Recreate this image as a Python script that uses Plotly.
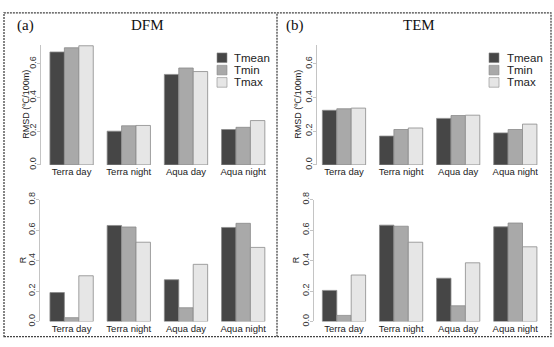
import plotly.graph_objects as go

W, H = 554, 347

categories = ["Terra day", "Terra night", "Aqua day", "Aqua night"]
series_names = ["Tmean", "Tmin", "Tmax"]

dfm_rmsd_tmean = [0.670, 0.200, 0.537, 0.210]
dfm_rmsd_tmin = [0.695, 0.232, 0.575, 0.223]
dfm_rmsd_tmax = [0.707, 0.234, 0.554, 0.263]
dfm_r_tmean = [0.190, 0.630, 0.274, 0.617]
dfm_r_tmin = [0.025, 0.620, 0.090, 0.644]
dfm_r_tmax = [0.300, 0.520, 0.375, 0.486]

tem_rmsd_tmean = [0.324, 0.171, 0.276, 0.190]
tem_rmsd_tmin = [0.333, 0.210, 0.293, 0.210]
tem_rmsd_tmax = [0.337, 0.219, 0.295, 0.242]
tem_r_tmean = [0.204, 0.632, 0.284, 0.621]
tem_r_tmin = [0.040, 0.625, 0.103, 0.646]
tem_r_tmax = [0.305, 0.520, 0.385, 0.490]

rmsd_ticks = [0.0, 0.2, 0.4, 0.6]
r_ticks = [0.0, 0.2, 0.4, 0.6, 0.8]

colors = ["#464646", "#a9a9a9", "#e6e6e6"]
edge = "#8a8a8a"


def fx(px):
    return px / W


def fy(py):
    return 1 - py / H


fig = go.Figure()

panels = [
    ("x", "y", [dfm_rmsd_tmean, dfm_rmsd_tmin, dfm_rmsd_tmax]),
    ("x2", "y2", [tem_rmsd_tmean, tem_rmsd_tmin, tem_rmsd_tmax]),
    ("x3", "y3", [dfm_r_tmean, dfm_r_tmin, dfm_r_tmax]),
    ("x4", "y4", [tem_r_tmean, tem_r_tmin, tem_r_tmax]),
]
for xa, ya, vals in panels:
    for name, v, c in zip(series_names, vals, colors):
        fig.add_trace(go.Bar(x=categories, y=v, name=name, xaxis=xa, yaxis=ya,
                             marker=dict(color=c, line=dict(color=edge, width=0.8)),
                             showlegend=False))

tickfont = dict(family="Liberation Sans, Arial", size=9, color="#333")
catfont = dict(family="Liberation Sans, Arial", size=9.5, color="#222")


def yax(dom_px, rng, ticks):
    return dict(domain=[fy(dom_px[1]), fy(dom_px[0])], range=rng, tickvals=ticks,
                ticktext=[f"{t:.1f}" for t in ticks], tickangle=-90, tickfont=tickfont,
                showline=True, linecolor="#c4c4c4", linewidth=1, ticks="outside",
                ticklen=3, tickcolor="#c4c4c4", showgrid=False, zeroline=False,
                ticklabelstandoff=-3, fixedrange=True)


def xax(dom_px, axis_px, center0_px, period, anchor):
    left = -(center0_px - axis_px) / period
    right = (dom_px[1] - center0_px) / period
    return dict(domain=[fx(axis_px), fx(dom_px[1])], range=[left, right],
                showline=False, ticks="", tickfont=catfont, showgrid=False,
                zeroline=False, anchor=anchor, fixedrange=True)


top = (38, 163)
bot = (199, 325.7)
fig.update_layout(
    width=W, height=H, margin=dict(l=0, r=0, t=0, b=0),
    paper_bgcolor="white", plot_bgcolor="white",
    barmode="group", bargap=0.243, bargroupgap=0,
    xaxis=xax((41, 273), 41, 71.6, 57.2, "y"),
    xaxis2=xax((317, 550), 317, 344, 57.1, "y2"),
    xaxis3=xax((40, 273), 40, 71.6, 57.2, "y3"),
    xaxis4=xax((314, 550), 314, 344, 57.1, "y4"),
    yaxis=dict(**yax(top, [0, 0.714], rmsd_ticks), anchor="x"),
    yaxis2=dict(**yax(top, [0, 0.714], rmsd_ticks), anchor="x2"),
    yaxis3=dict(**yax(bot, [0, 0.8], r_ticks), anchor="x3"),
    yaxis4=dict(**yax(bot, [0, 0.8], r_ticks), anchor="x4"),
)

ann = []
shapes = []
serif = dict(family="Liberation Serif, Times New Roman", size=15, color="#111")
sans = dict(family="Liberation Sans, Arial", size=9, color="#222")


def label(xp, yp, text, font, angle=0, xanchor="center"):
    ann.append(dict(x=fx(xp), y=fy(yp), text=text, showarrow=False, font=font,
                    textangle=angle, xanchor=xanchor, yanchor="middle",
                    xref="paper", yref="paper"))


label(25, 18, "(a)", serif)
label(147, 18, "DFM", serif)
label(295, 18, "(b)", serif)
label(419, 18, "TEM", serif)

for xp in (26, 298):
    label(xp, 100.5, "RMSD (℃/100m)", sans, angle=-90)
for xp in (23, 296):
    label(xp, 262, "R", sans, angle=-90)

legfont = dict(family="Liberation Sans, Arial", size=11.5, color="#222")
rows = [51.7, 64.5, 77.3]
for sq_c, tx in ((222, 232), (494, 505)):
    for name, c, ry in zip(series_names, colors, rows):
        shapes.append(dict(type="rect", xref="paper", yref="paper",
                           x0=fx(sq_c - 5), x1=fx(sq_c + 5), y0=fy(ry + 5), y1=fy(ry - 5),
                           fillcolor=c, line=dict(color=edge, width=0.6)))
        label(tx, ry, name, legfont, xanchor="left")

dash = dict(color="#444", width=1.3, dash="2px,1px")
shapes.append(dict(type="rect", xref="paper", yref="paper", x0=fx(4), x1=fx(551),
                   y0=fy(341.5), y1=fy(5), line=dash))
shapes.append(dict(type="line", xref="paper", yref="paper", x0=fx(277), x1=fx(277),
                   y0=fy(341.5), y1=fy(5), line=dash))

fig.update_layout(annotations=ann, shapes=shapes)
fig.write_html("out.html", config={"displayModeBar": False})
